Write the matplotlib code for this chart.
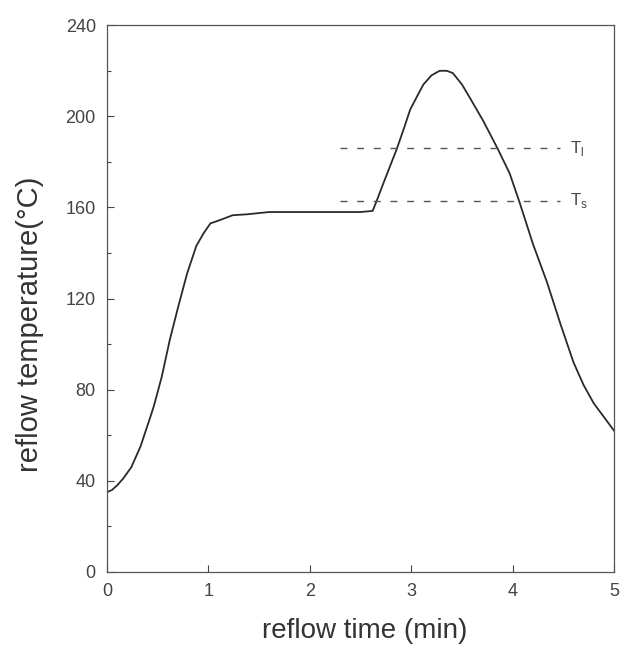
import matplotlib
matplotlib.use("Agg")
import matplotlib.pyplot as plt
from matplotlib.ticker import MultipleLocator

plt.rcParams['font.family'] = ['Liberation Sans', 'DejaVu Sans']

# reflow profile
time_min = [0, 0.05, 0.10, 0.16, 0.24, 0.33, 0.42, 0.46, 0.50, 0.54, 0.62, 0.70, 0.79,
            0.88, 0.95, 1.02, 1.11, 1.24, 1.38, 1.6, 1.9, 2.2, 2.5, 2.62,
            2.66, 2.72, 2.79, 2.86, 2.93, 2.99, 3.06, 3.12, 3.2, 3.28, 3.35,
            3.41, 3.5, 3.58, 3.71, 3.85, 3.97, 4.07, 4.20, 4.34, 4.47,
            4.60, 4.70, 4.80, 4.90, 5.0]
temp_c = [35, 36, 38, 41, 46, 55, 67, 72.5, 79, 85.7, 102, 116, 131,
          143, 148.5, 153, 154.4, 156.6, 157, 158, 158, 158, 158, 158.5,
          163, 170, 178, 186, 195, 203, 209, 214, 218, 220, 220,
          219, 214, 208, 198, 186, 175, 162, 144, 127, 109,
          92, 82, 74, 68, 62]

# reference levels
level_names = [r'T$_\mathregular{l}$', r'T$_\mathregular{s}$']
level_values = [186, 163]
level_span = [2.3, 4.47]

x_ticks = [0, 1, 2, 3, 4, 5]
y_ticks = [0, 40, 80, 120, 160, 200, 240]

ink = '#2a2a2a'
fig = plt.figure(figsize=(6.39, 6.47), dpi=100)
ax = fig.add_axes([0.1674, 0.116, 0.7936, 0.845])

ax.plot(time_min, temp_c, color=ink, lw=1.3)
for name, val in zip(level_names, level_values):
    ax.plot(level_span, [val, val], color='#555555', lw=1.0,
            linestyle=(0, (5, 7)))
    ax.text(level_span[1] + 0.1, val, name, fontsize=12, color='#444444',
            va='center', ha='left')

ax.set_xlim(0, 5)
ax.set_ylim(0, 240)
ax.set_xticks(x_ticks)
ax.set_yticks(y_ticks)
ax.yaxis.set_minor_locator(MultipleLocator(20))
ax.tick_params(direction='in', length=5, width=0.8, colors='#444444',
               labelsize=13, pad=8)
ax.tick_params(which='minor', direction='in', length=3, width=0.8, colors='#444444')
for s in ax.spines.values():
    s.set_color('#555555')
    s.set_linewidth(0.9)

ax.set_xlabel('reflow time (min)', fontsize=20, color='#333333')
ax.set_ylabel('reflow temperature(°C)', fontsize=21, color='#333333')
ax.xaxis.set_label_coords(0.509, -0.085)
ax.yaxis.set_label_coords(-0.125, 0.453)

fig.savefig('out.png', dpi=100)
